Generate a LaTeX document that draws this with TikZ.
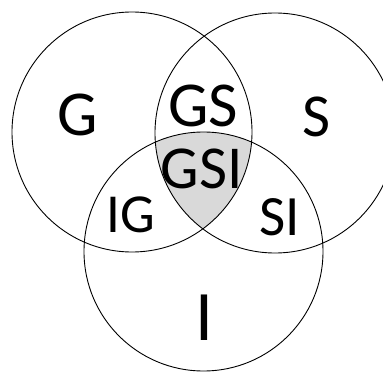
\documentclass[tikz,border=0pt]{standalone}
\usepackage{fontspec}
\setmainfont{Carlito}
\definecolor{interfill}{HTML}{D9D9D9}
\begin{document}
\begin{tikzpicture}[x=1pt,y=-1pt,
  circ/.style={draw=black,line width=0.9pt},
  lab/.style={inner sep=0pt,text=black}]
\useasboundingbox (0,0) rectangle (383,372);
\clip (0,0) rectangle (383,372);
\fill[white] (0,0) rectangle (383,372);
\begin{scope}
  \clip (132,132) circle (120pt);
  \clip (275,133) circle (120pt);
  \fill[interfill] (203.5,251.5) circle (119.5pt);
\end{scope}
\draw[circ] (132,132) circle (120pt);
\draw[circ] (275,133) circle (120pt);
\draw[circ] (203.5,251.5) circle (119.5pt);
\node[lab] (g) at (77.5,114.5) {\fontsize{64}{64}\selectfont G};
\node[lab] (gs) at (203.5,105.5) {\fontsize{64}{64}\selectfont GS};
\node[lab] (s) at (317,116.5) {\fontsize{61}{61}\selectfont S};
\node[lab] (gsi) at (201.5,168.5) {\fontsize{61}{61}\selectfont GSI};
\node[lab] (ig) at (131,215) {\fontsize{55}{55}\selectfont IG};
\node[lab] (si) at (280,217.5) {\fontsize{57}{57}\selectfont SI};
\node[lab] (i) at (204,317.5) {\fontsize{71}{71}\selectfont I};
\end{tikzpicture}
\end{document}
